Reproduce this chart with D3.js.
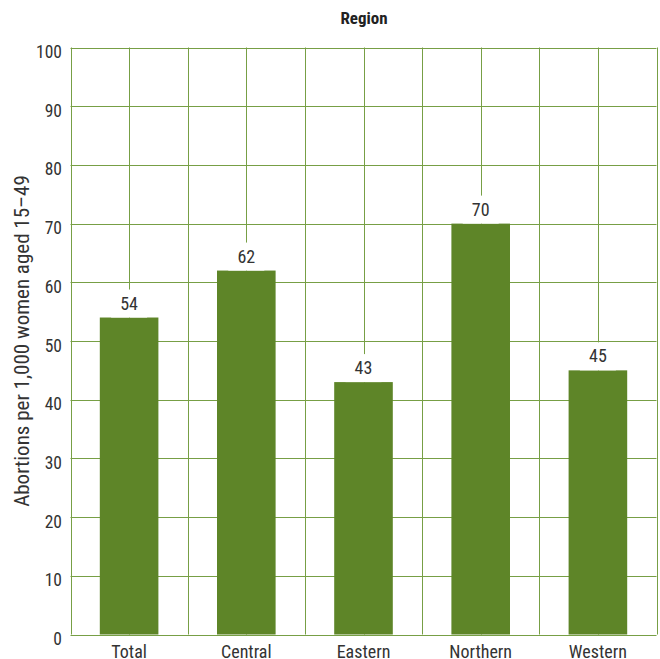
<!DOCTYPE html>
<html><head><meta charset="utf-8">
<script src="https://cdn.jsdelivr.net/npm/d3@7"></script>
<style>
body{margin:0;background:#fff;}
text{font-family:"Liberation Sans Narrow","Roboto Condensed","Arial Narrow",sans-serif;fill:#333;}
</style></head>
<body><svg id="c" width="660" height="659"></svg>
<script>
const categories = ["Total","Central","Eastern","Northern","Western"];
const values = [54,62,43,70,45];
const yTicks = [0,10,20,30,40,50,60,70,80,90,100];
const title = "Region";
const yLabel = "Abortions per 1,000 women aged 15–49";

const svg = d3.select("#c");
const m = {l:70.5, r:656.5, t:47.5, b:634.5};
const x = d3.scaleBand().domain(categories).range([m.l, m.r]).paddingInner(0.5).paddingOuter(0.25);
const xb = d3.scaleBand().domain(categories).range([m.l, m.r]);
const y = d3.scaleLinear().domain([0,100]).range([m.b, m.t]);
const gridColor = "#779f45";

// horizontal grid
svg.append("g").selectAll("line").data(yTicks).join("line")
  .attr("x1", m.l).attr("x2", m.r)
  .attr("y1", d=>Math.round(y(d))+0.5).attr("y2", d=>Math.round(y(d))+0.5)
  .attr("stroke", gridColor).attr("stroke-width",1);
// vertical grid: boundaries and centers
const vx = [];
categories.forEach(c=>{ vx.push(xb(c)); vx.push(xb(c)+xb.bandwidth()/2); });
vx.push(m.r);
svg.append("g").selectAll("line").data(vx).join("line")
  .attr("x1", d=>Math.round(d)+0.5).attr("x2", d=>Math.round(d)+0.5)
  .attr("y1", m.t).attr("y2", m.b)
  .attr("stroke", gridColor).attr("stroke-width",1);

// bars
const bars = categories.map((c,i)=>({c, v:values[i]}));
svg.append("g").selectAll("rect").data(bars).join("rect")
  .attr("x", d=>x(d.c)).attr("width", x.bandwidth())
  .attr("y", d=>y(d.v)).attr("height", d=>y(0)-y(d.v))
  .attr("fill", "#5e8528");

// value labels with white background
const lg = svg.append("g");
lg.selectAll("rect").data(bars).join("rect")
  .attr("x", d=>xb(d.c)+xb.bandwidth()/2-18).attr("width", 36)
  .attr("y", d=>y(d.v)-28).attr("height", 28)
  .attr("fill", "#fff");
lg.selectAll("text").data(bars).join("text")
  .attr("x", d=>xb(d.c)+xb.bandwidth()/2).attr("y", d=>y(d.v)-8)
  .attr("text-anchor","middle").attr("font-size",18).text(d=>d.v);

// y tick labels
svg.append("g").selectAll("text").data(yTicks).join("text")
  .attr("x", 62).attr("y", d=>y(d)+10.5)
  .attr("text-anchor","end").attr("font-size",17.5).text(d=>d);

// x labels
svg.append("g").selectAll("text").data(categories).join("text")
  .attr("x", d=>xb(d)+xb.bandwidth()/2).attr("y", 657.5)
  .attr("text-anchor","middle").attr("font-size",18).text(d=>d);

// title
svg.append("text").attr("x", 364).attr("y", 24).attr("text-anchor","middle")
  .attr("font-size",17).attr("font-weight","bold").style("fill","#222").text(title);

// y label
svg.append("text").attr("transform", `translate(29,${(m.t+m.b)/2}) rotate(-90)`)
  .attr("text-anchor","middle").attr("font-size",21).text(yLabel);
</script></body></html>
